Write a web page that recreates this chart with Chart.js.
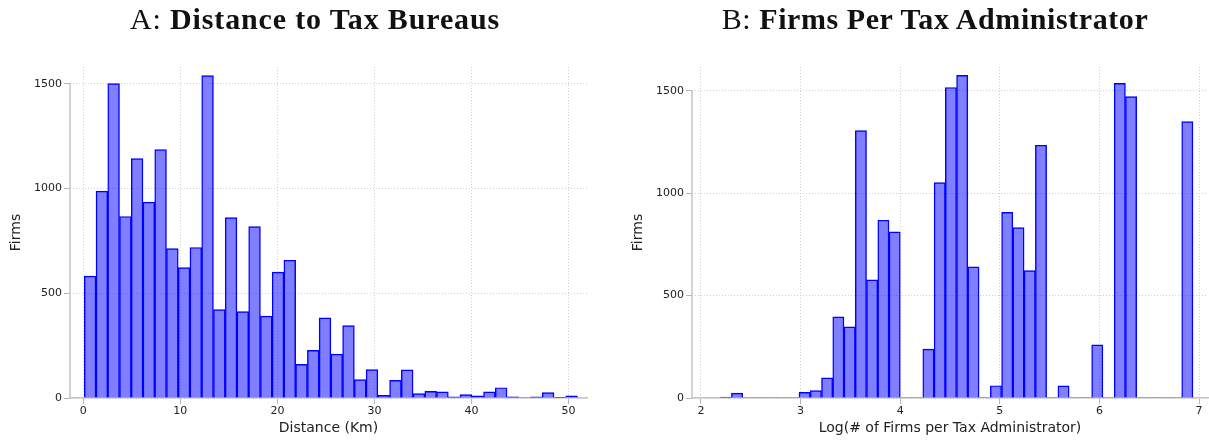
<!DOCTYPE html>
<html lang="en">

<head>
	<meta charset="UTF-8">
	<title>Tax bureaus</title>
	<style>
		body { margin: 0; background: #fff; }
		#wrap { position: relative; width: 1209px; height: 443px; }
		canvas { position: absolute; top: 0; }
		.ttl { position: absolute; top: 2px; line-height: 34px; text-align: center; font-family: "Liberation Serif", serif; font-size: 30px; letter-spacing: 0.85px; color: #111; white-space: nowrap; }
		.ttl b { font-weight: bold; }
	</style>
</head>

<body>
	<div id="wrap">
		<canvas id="chartA" width="604" height="443" style="left:0"></canvas>
		<canvas id="chartB" width="605" height="443" style="left:604px"></canvas>
		<div class="ttl" style="left:0;width:630px">A: <b>Distance to Tax Bureaus</b></div>
		<div class="ttl" style="left:660px;width:550px;letter-spacing:0.57px">B: <b>Firms Per Tax Administrator</b></div>
	</div>

	<script src="https://cdn.jsdelivr.net/npm/chart.js"></script>
	<script>
		// panel A: histogram of distance (km), 42 bins
		const distStart = 0.1;
		const distWidth = 1.21;
		const distCounts = [582, 988, 1502, 867, 1143, 936, 1186, 714, 623, 719,
			1540, 422, 862, 413, 819, 391, 601, 658, 161, 228,
			383, 210, 346, 88, 136, 13, 84, 134, 21, 32,
			29, 5, 16, 10, 29, 49, 6, 0, 5, 26, 2, 10];
		const distTicks = [0, 10, 20, 30, 40, 50];

		// panel B: histogram of log(# firms per tax administrator), 42 bins
		const logStart = 2.193;
		const logWidth = 0.113;
		const logCounts = [5, 24, 0, 0, 0, 0, 0, 28, 36, 98,
			396, 347, 1306, 577, 868, 811, 0, 0, 239, 1052,
			1516, 1575, 640, 0, 60, 906, 832, 622, 1234, 0,
			59, 0, 0, 259, 0, 1536, 1472, 0, 0, 0, 0, 1349];
		const logTicks = [2, 3, 4, 5, 6, 7];

		const firmTicks = [0, 500, 1000, 1500];

		Chart.defaults.font.family = "'DejaVu Sans', sans-serif";
		Chart.defaults.color = '#222';

		function toBins(start, width, counts) {
			return counts.map((c, i) => ({ x: start + (i + 0.5) * width, y: c }));
		}

		// stata draws the y axis line only over the labelled range
		const yAxisLine = {
			id: 'yAxisLine',
			afterDraw(chart) {
				const y = chart.scales.y;
				const c = chart.ctx;
				c.save();
				c.strokeStyle = '#c4c4c4';
				c.lineWidth = 1.5;
				c.beginPath();
				c.moveTo(chart.chartArea.left, y.getPixelForValue(firmTicks[0]));
				c.lineTo(chart.chartArea.left, y.getPixelForValue(firmTicks[firmTicks.length - 1]));
				c.stroke();
				c.restore();
			}
		};

		function histChart(id, bins, xTicks, xRange, yMax, xTitle, yAxisWidth, yTitlePad, padRight) {
			return new Chart(document.getElementById(id), {
				type: 'bar',
				data: {
					datasets: [{
						data: bins,
						backgroundColor: 'rgba(0,0,255,0.5)',
						borderColor: '#0000ff',
						borderWidth: (c) => (c.raw && c.raw.y > 0 ? 0.8 : 0),
						barPercentage: 1,
						categoryPercentage: 1
					}]
				},
				plugins: [yAxisLine],
				options: {
					responsive: false,
					animation: false,
					layout: { padding: { top: 67, right: padRight, left: 0, bottom: 0 } },
					plugins: { legend: { display: false }, tooltip: { enabled: false } },
					scales: {
						x: {
							type: 'linear',
							offset: false,
							min: xRange[0],
							max: xRange[1],
							afterBuildTicks: (s) => { s.ticks = xTicks.map(v => ({ value: v })); },
							afterFit: (s) => { s.height = 45; },
							grid: { offset: false, color: '#cfcfcf', tickColor: '#b5b5b5', tickLength: 6, lineWidth: 1 },
							border: { color: '#c4c4c4', width: 1.5, dash: [1, 2] },
							ticks: { font: { size: 11 }, padding: 1, maxRotation: 0, callback: (v) => String(v) },
							title: { display: true, text: xTitle, font: { size: 14 }, padding: { top: 0, bottom: 6 } }
						},
						y: {
							min: 0,
							max: yMax,
							afterBuildTicks: (s) => { s.ticks = firmTicks.map(v => ({ value: v })); },
							afterFit: (s) => { s.width = yAxisWidth; },
							grid: { color: '#cfcfcf', tickColor: '#b5b5b5', tickLength: 6, lineWidth: 1 },
							border: { display: false, dash: [1, 2] },
							ticks: { font: { size: 11 }, padding: 2, callback: (v) => String(v) },
							title: { display: true, text: 'Firms', font: { size: 14 }, padding: { top: yTitlePad, bottom: 0 } }
						}
					}
				}
			});
		}

		histChart('chartA', toBins(distStart, distWidth, distCounts), distTicks,
			[-1.37, 51.9], 1581, 'Distance (Km)', 70, 8, 17);
		histChart('chartB', toBins(logStart, logWidth, logCounts), logTicks,
			[1.91, 7.09], 1616, 'Log(# of Firms per Tax Administrator)', 88, 26, 1);
	</script>
</body>

</html>
